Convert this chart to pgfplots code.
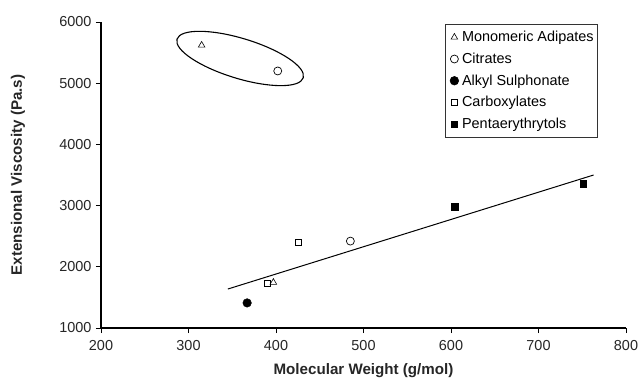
\documentclass[border=0pt]{standalone}
\usepackage{pgfplots}
\pgfplotsset{compat=1.18}
\usepackage{fontspec}
\setmainfont{Liberation Sans}
\usetikzlibrary{shapes.geometric}

\begin{document}
\begin{tikzpicture}
% page frame around the plot area (plot area spans 525bp x 306bp)
\path[use as bounding box] (-101bp,-51bp) rectangle (540bp,328bp);
\begin{axis}[
  scale only axis,
  width=525bp, height=306bp,
  at={(0,0)}, anchor=south west,
  xmin=200, xmax=800, ymin=1000, ymax=6000,
  xtick={200,300,...,800}, ytick={1000,2000,...,6000},
  axis lines=left,
  axis line style={-, line width=1.1pt},
  tick align=outside,
  major tick length=5bp,
  tick style={line width=1pt, black},
  /pgf/number format/assume math mode=true,
  /pgf/number format/1000 sep={},
  ticklabel style={font=\fontsize{14.5}{16}\selectfont, text=black!85},
  xticklabel style={yshift=-4bp},
  yticklabel style={xshift=-1bp},
  xlabel={\textbf{Molecular Weight (g/mol)}},
  ylabel={\textbf{Extensional Viscosity (Pa.s)}},
  xlabel style={font=\fontsize{15.2}{17}\selectfont, text=black!85, at={(axis description cs:0.5,-0.1405)}, anchor=center},
  ylabel style={font=\fontsize{15.2}{17}\selectfont, text=black!85, at={(axis description cs:-0.158,0.5)}, anchor=center},
  legend style={at={(0.9467,0.9935)}, anchor=north east, draw=black!80, line width=0.6pt,
    font=\fontsize{14.5}{16}\selectfont, row sep=5.8bp, inner ysep=5bp, inner xsep=2bp,
    /tikz/every even column/.append style={column sep=1bp}},
  legend image code/.code={\path[draw=none] (0cm,0cm) -- (0.45cm,0cm); \draw[#1] plot coordinates {(0.25cm,0cm)};},
  legend cell align=left,
]
\addplot[only marks, mark=triangle, mark size=3.8bp, mark options={black, line width=0.6pt}]
  coordinates {(315,5620) (397,1745)};
\addlegendentry{Monomeric Adipates}
\addplot[only marks, mark=o, mark size=4bp, mark options={black, line width=0.7pt}]
  coordinates {(402,5200) (485,2420)};
\addlegendentry{Citrates}
\addplot[only marks, mark=*, mark size=4.3bp, mark options={black, fill=black}]
  coordinates {(367,1410)};
\addlegendentry{Alkyl Sulphonate}
\addplot[only marks, mark=square, mark size=3bp, mark options={black, line width=0.6pt}]
  coordinates {(390,1733) (425,2405)};
\addlegendentry{Carboxylates}
\addplot[only marks, mark=square*, mark size=3.4bp, mark options={black, fill=black}]
  coordinates {(604,2977) (751,3360)};
\addlegendentry{Pentaerythrytols}
% linear trend line
\addplot[forget plot, black, line width=1pt] coordinates {(345,1637) (763,3500)};
% grouping ellipse
\node[draw, ellipse, line width=1.1pt, rotate=-17, minimum width=132bp, minimum height=40bp, inner sep=0pt]
  at (axis cs:359,5404) {};
\end{axis}
\end{tikzpicture}
\end{document}
